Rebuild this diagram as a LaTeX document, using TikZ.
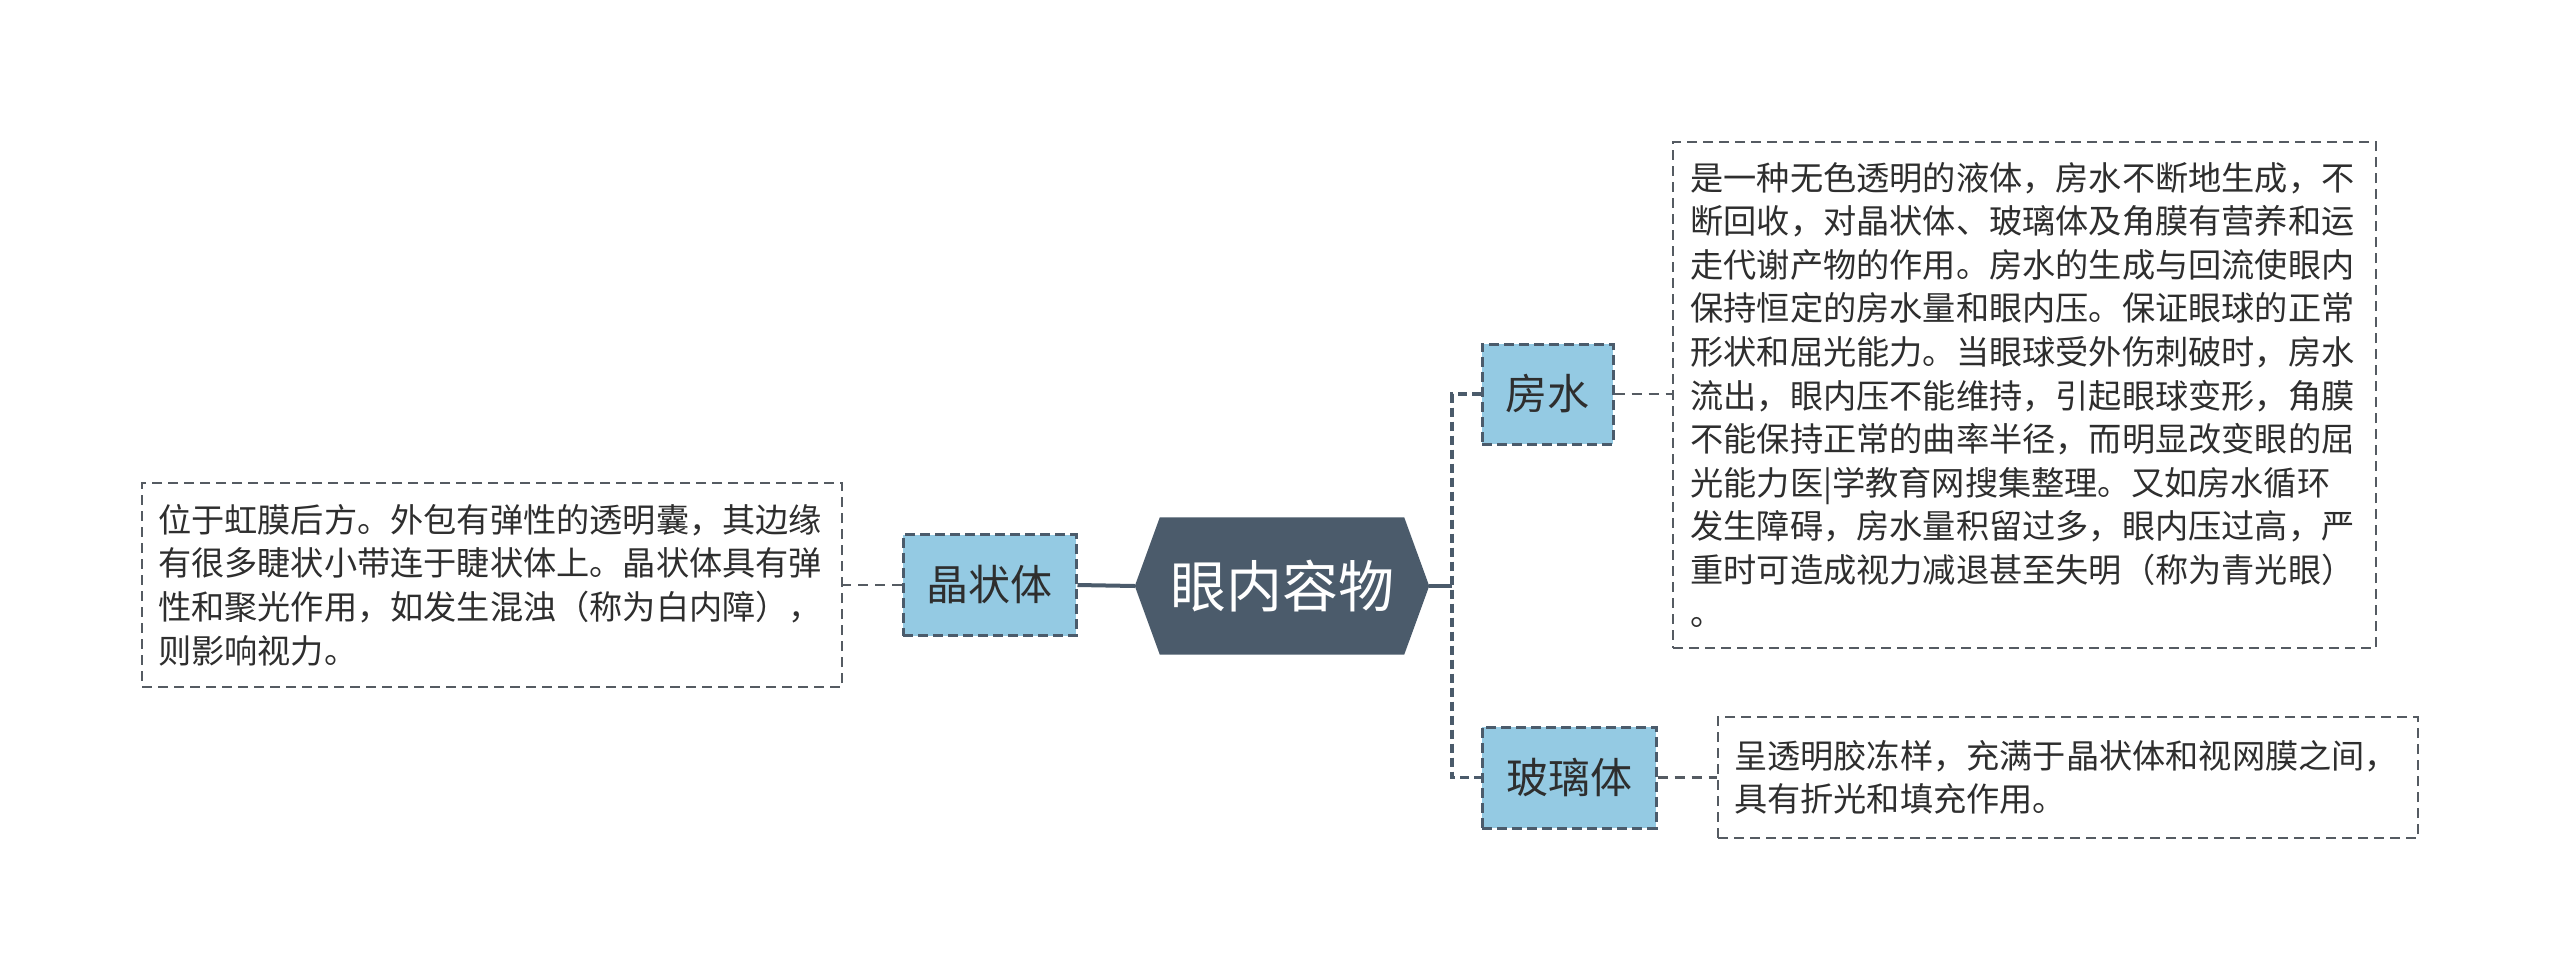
\documentclass[tikz,border=0pt]{standalone}
\usepackage{fontspec}
\newfontfamily\cjk{Noto Sans CJK SC}
\usetikzlibrary{calc,backgrounds}
\definecolor{slate}{HTML}{4B5B6B}
\definecolor{skyfill}{HTML}{94CAE3}
\definecolor{txt}{HTML}{2E2E2E}
\definecolor{bord}{HTML}{555B62}
\begin{document}
\begin{tikzpicture}[x=1pt,y=-1pt,
  topic/.style={fill=skyfill, draw=slate, line width=3pt, dash pattern=on 10pt off 5pt,
    font=\cjk\fontsize{42}{50}\selectfont, text=txt, inner sep=0pt},
  note/.style={draw=bord, line width=2.2pt, dash pattern=on 10pt off 6pt,
    font=\cjk\fontsize{33.2}{43.6}\selectfont, text=txt, align=left, inner ysep=0pt},
  link/.style={draw=bord, line width=2.5pt, dash pattern=on 10pt off 7pt},
  trunkline/.style={draw=slate, line width=3.5pt, dash pattern=on 9pt off 5pt},
  mainline/.style={draw=slate, line width=4pt}]
\useasboundingbox (0,0) rectangle (2560,980);

% central node
\node[font=\cjk\fontsize{56}{60}\selectfont, text=white, minimum width=244pt, minimum height=137pt, inner sep=0pt] (root) at (1282,586) {眼内容物};
\coordinate (rootL) at ($(root.west)+(-25pt,0)$);
\coordinate (rootR) at ($(root.east)+(25pt,0)$);
\begin{scope}[on background layer]
\fill[white] (0,0) rectangle (2560,980);
\fill[slate] (root.north west) -- (root.north east) -- (rootR) -- (root.south east) -- (root.south west) -- (rootL) -- cycle;
\end{scope}

% topics
\node[topic, minimum width=131pt, minimum height=100pt] (water) at (1547.5,394) {房水};
\node[topic, minimum width=174pt, minimum height=101pt] (vitreous) at (1569,777.5) {玻璃体};
\node[topic, minimum width=173pt, minimum height=101pt] (lens) at (989.5,585) {晶状体};

% notes
\node[note, text width=668pt, inner xsep=17.5pt, minimum height=506pt] (waternote) at (2024.5,395) {是一种无色透明的液体，房水不断地生成，不\\断回收，对晶状体、玻璃体及角膜有营养和运\\走代谢产物的作用。房水的生成与回流使眼内\\保持恒定的房水量和眼内压。保证眼球的正常\\形状和屈光能力。当眼球受外伤刺破时，房水\\流出，眼内压不能维持，引起眼球变形，角膜\\不能保持正常的曲率半径，而明显改变眼的屈\\光能力医|学教育网搜集整理。又如房水循环\\发生障碍，房水量积留过多，眼内压过高，严\\重时可造成视力减退甚至失明（称为青光眼）\\。};
\node[note, text width=668pt, inner xsep=16pt, minimum height=121pt] (vitnote) at (2068,777.5) {呈透明胶冻样，充满于晶状体和视网膜之间，\\具有折光和填充作用。};
\node[note, text width=668pt, inner xsep=16pt, minimum height=204pt] (lensnote) at (492,585) {位于虹膜后方。外包有弹性的透明囊，其边缘\\有很多睫状小带连于睫状体上。晶状体具有弹\\性和聚光作用，如发生混浊（称为白内障），\\则影响视力。};

% connectors
\coordinate (trunk) at (1452,586);
\draw[mainline] (rootL) -- (lens.east);
\draw[mainline] (rootR) -- (trunk);
\draw[trunkline] (water.west) -| (trunk) |- (vitreous.west);
\draw[link] (water.east) -- (water.east -| waternote.west);
\draw[link] (vitreous.east) -- (vitreous.east -| vitnote.west);
\draw[link] (lens.west) -- (lens.west -| lensnote.east);
\end{tikzpicture}
\end{document}
